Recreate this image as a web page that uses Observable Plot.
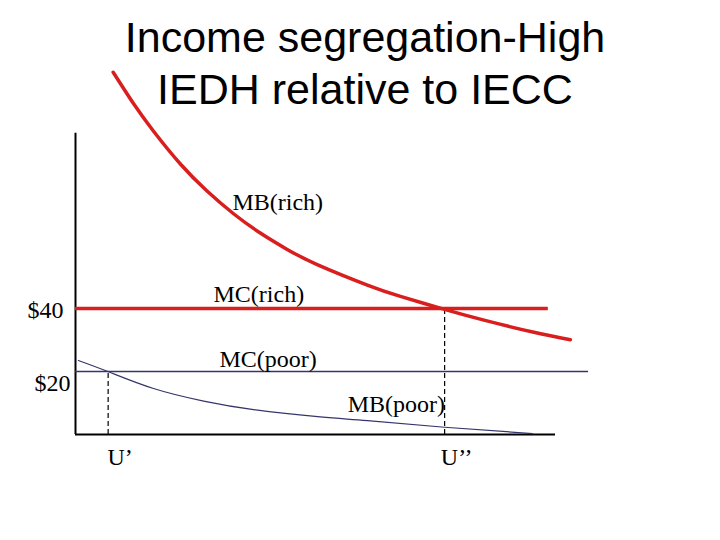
<!DOCTYPE html>
<html><head><meta charset="utf-8">
<script src="https://cdn.jsdelivr.net/npm/d3@7"></script>
<script src="https://cdn.jsdelivr.net/npm/@observablehq/plot@0.6"></script>
<style>
body{margin:0;background:#fff;}
#wrap{position:relative;width:720px;height:540px;overflow:hidden;}
#wrap svg{position:absolute;left:0;top:0;}
#title{position:absolute;left:0;top:11px;width:730px;text-align:center;font:43px/52px "Liberation Sans",Arial,sans-serif;color:#000;z-index:2;}
</style></head><body>
<div id="wrap"><div id="title">Income segregation-High<br>IEDH relative to IECC</div></div>
<script>
// Quantity (x, 0..100) and price (y, $)
const mbRichX = [7.85,12.15,16.3,21.9,27.4,33.0,38.5,44.1,50.35,60.8,67.7,76.7,85.1,95.5,103.1];
const mbRichY = [115.0,104.9,96.2,85.8,77.3,70.0,63.95,58.75,53.95,47.45,43.85,39.8,36.3,32.45,30.1];
const mbPoorX = [0.6,6.9,16.25,26.7,37.1,51.0,60.8,76.9,95.2];
const mbPoorY = [23.5,19.9,14.6,10.6,7.9,5.6,4.4,2.3,0.3];
const mcRich = 40, mcRichEnd = 98.5;
const mcPoor = 20, mcPoorEnd = 106.9;
const uLabels = ["U\u2019", "U\u2019\u2019"];
const uX = [6.8, 76.9];
const uY = [mcPoor, mcRich];
const priceTicks = [40, 20];
const priceLabels = ["$40", "$20"];
const curveLabels = ["MB(rich)", "MC(rich)", "MC(poor)", "MB(poor)"];
const curveLabelX = [32.7, 28.75, 30.0, 56.7];
const curveLabelY = [71.4, 42.2, 21.3, 7.0];
const axisTop = 95.6, axisRight = 100;

const mbRich = mbRichX.map((x, i) => ({x, y: mbRichY[i]}));
const mbPoor = mbPoorX.map((x, i) => ({x, y: mbPoorY[i]}));
const us = uX.map((x, i) => ({x, y: uY[i], label: uLabels[i]}));
const curveLbl = curveLabels.map((t, i) => ({t, x: curveLabelX[i], y: curveLabelY[i]}));

const red = "#d91e1e", navy = "#35356c";
const serif = '"Liberation Serif","Times New Roman",serif';

const chart = Plot.plot({
  width: 720, height: 540,
  marginLeft: 75, marginRight: 165, marginTop: 119, marginBottom: 106,
  x: {domain: [0, 100], axis: null},
  y: {domain: [0, 100], axis: null},
  style: {fontFamily: serif, background: "transparent", overflow: "visible"},
  marks: [
    Plot.ruleX([0], {y1: 0, y2: axisTop, stroke: "black", strokeWidth: 2}),
    Plot.ruleY([0], {x1: 0, x2: axisRight, stroke: "black", strokeWidth: 2}),
    Plot.ruleX(us, {x: "x", y1: 0, y2: "y", stroke: "black", strokeWidth: 1.2, strokeDasharray: "5,3"}),
    Plot.ruleY([mcPoor], {x1: 0, x2: mcPoorEnd, stroke: navy, strokeWidth: 1.5}),
    Plot.line(mbPoor, {x: "x", y: "y", stroke: navy, strokeWidth: 1.2, curve: "natural"}),
    Plot.ruleY([mcRich], {x1: 0, x2: mcRichEnd, stroke: red, strokeWidth: 3.5}),
    Plot.line(mbRich, {x: "x", y: "y", stroke: red, strokeWidth: 3.5, curve: "natural"}),
    Plot.text(curveLbl, {x: "x", y: "y", text: "t", textAnchor: "start", lineAnchor: "bottom", fontSize: 24, fill: "black"}),
    Plot.text(us, {x: "x", y: 0, text: "label", textAnchor: "middle", lineAnchor: "bottom", dx: 12, dy: 30, fontSize: 24, fill: "black"}),
    Plot.text([priceLabels[0]], {x: 0, y: [priceTicks[0]], text: d => d, textAnchor: "end", lineAnchor: "bottom", dx: -12, dy: 9, fontSize: 24, fill: "black"}),
    Plot.text([priceLabels[1]], {x: 0, y: [priceTicks[1]], text: d => d, textAnchor: "end", lineAnchor: "bottom", dx: -5, dy: 19, fontSize: 24, fill: "black"})
  ]
});
document.getElementById("wrap").appendChild(chart);
</script>
</body></html>
